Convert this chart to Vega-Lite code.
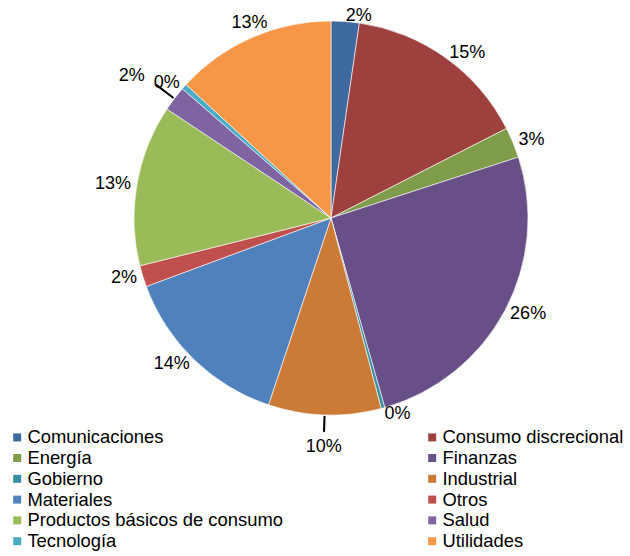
{
  "$schema": "https://vega.github.io/schema/vega-lite/v6.json",
  "width": 598,
  "height": 436,
  "autosize": {"type": "none"},
  "padding": {"left": 32, "top": 0, "right": 0, "bottom": 120},
  "background": "white",
  "config": {"view": {"stroke": null}, "font": "Liberation Sans"},
  "data": {
    "values": [
      {"sector": "Comunicaciones", "value": 2.3, "label": "2%"},
      {"sector": "Consumo discrecional", "value": 15.19, "label": "15%"},
      {"sector": "Energía", "value": 2.51, "label": "3%"},
      {"sector": "Finanzas", "value": 25.6, "label": "26%"},
      {"sector": "Gobierno", "value": 0.3, "label": "0%"},
      {"sector": "Industrial", "value": 9.24, "label": "10%"},
      {"sector": "Materiales", "value": 14.21, "label": "14%"},
      {"sector": "Otros", "value": 1.75, "label": "2%"},
      {"sector": "Productos básicos de consumo", "value": 13.23, "label": "13%"},
      {"sector": "Salud", "value": 2.06, "label": "2%"},
      {"sector": "Tecnología", "value": 0.45, "label": "0%"},
      {"sector": "Utilidades", "value": 13.16, "label": "13%"}
    ]
  },
  "transform": [
    {"joinaggregate": [{"op": "sum", "field": "value", "as": "total"}]},
    {"window": [{"op": "sum", "field": "value", "as": "cum"}], "sort": [{"field": "sector", "order": "ascending"}]},
    {"calculate": "360 * (datum.cum - datum.value / 2) / datum.total", "as": "ang"}
  ],
  "layer": [
    {
      "mark": {"type": "arc", "outerRadius": 197, "stroke": "white", "strokeWidth": 0.6},
      "encoding": {
        "theta": {"field": "value", "type": "quantitative", "stack": true},
        "order": {"field": "cum", "type": "quantitative", "sort": "ascending"},
        "color": {
          "field": "sector",
          "type": "nominal",
          "scale": {
            "domain": ["Comunicaciones", "Energía", "Gobierno", "Materiales", "Productos básicos de consumo", "Tecnología", "Consumo discrecional", "Finanzas", "Industrial", "Otros", "Salud", "Utilidades"],
            "range": ["#3F6A9F", "#7F9C4B", "#3A8EA3", "#4F81BD", "#9BBB59", "#4BACC6", "#9E413E", "#684F88", "#CC7B37", "#C0504D", "#8064A2", "#F79646"]
          },
          "legend": {
            "orient": "none",
            "legendX": -24,
            "legendY": 428,
            "columns": 2,
            "columnPadding": 140,
            "rowPadding": 1.8,
            "symbolType": "square",
            "symbolSize": 64,
            "symbolStrokeWidth": 0,
            "labelFontSize": 18.4,
            "labelFont": "Liberation Sans",
            "labelColor": "black",
            "labelOffset": 1,
            "labelLimit": 0,
            "title": null,
            "padding": 0
          }
        }
      }
    },
    {
      "transform": [{"filter": "datum.sector == 'Salud' || datum.sector == 'Industrial'"}],
      "mark": {
        "type": "arc",
        "color": "black",
        "theta": {"expr": "datum.ang * PI / 180 - 0.005"},
        "theta2": {"expr": "datum.ang * PI / 180 + 0.005"},
        "radius": {"expr": "datum.sector == 'Salud' ? 220 : 214"},
        "radius2": 198
      },
      "encoding": {}
    },
    {
      "mark": {
        "type": "text",
        "radius": {"expr": "datum.sector == 'Salud' ? 234 : (datum.sector == 'Industrial' ? 220 : 203)"},
        "fontSize": 18,
        "font": "Liberation Sans",
        "color": "black",
        "align": {"expr": "(datum.ang > 335 || (datum.ang > 170 && datum.ang < 190)) ? 'center' : (datum.ang < 180 ? 'left' : 'right')"},
        "baseline": {"expr": "datum.ang > 335 ? 'bottom' : ((datum.ang > 170 && datum.ang < 190) ? 'top' : 'middle')"}
      },
      "encoding": {
        "theta": {"field": "value", "type": "quantitative", "stack": true},
        "order": {"field": "cum", "type": "quantitative", "sort": "ascending"},
        "text": {"field": "label", "type": "nominal"}
      }
    }
  ]
}
